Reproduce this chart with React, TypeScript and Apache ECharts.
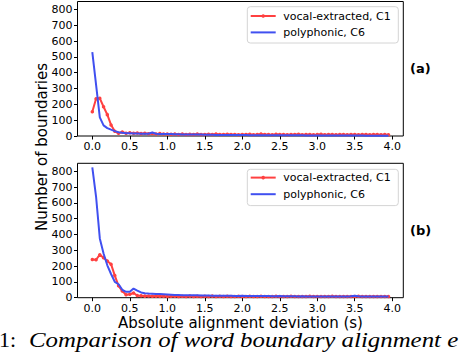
import React, { useEffect, useRef } from "react";
import * as echarts from "echarts";

// Bin positions (s) of the absolute alignment deviation
const deviation = [
  0.0, 0.05, 0.1, 0.15, 0.2, 0.25, 0.3, 0.35, 0.4, 0.45,
  0.5, 0.55, 0.6, 0.65, 0.7, 0.75, 0.8, 0.85, 0.9, 0.95,
  1.0, 1.05, 1.1, 1.15, 1.2, 1.25, 1.3, 1.35, 1.4, 1.45,
  1.5, 1.55, 1.6, 1.65, 1.7, 1.75, 1.8, 1.85, 1.9, 1.95,
  2.0, 2.05, 2.1, 2.15, 2.2, 2.25, 2.3, 2.35, 2.4, 2.45,
  2.5, 2.55, 2.6, 2.65, 2.7, 2.75, 2.8, 2.85, 2.9, 2.95,
  3.0, 3.05, 3.1, 3.15, 3.2, 3.25, 3.3, 3.35, 3.4, 3.45,
  3.5, 3.55, 3.6, 3.65, 3.7, 3.75, 3.8, 3.85, 3.9, 3.95,
];

// Panel (a)
const vocalA = [
  153, 235, 238, 185, 135, 70, 30, 17, 25, 18,
  20, 17, 19, 15, 17, 14, 16, 13, 15, 12,
  13, 11, 13, 10, 12, 10, 11, 9, 12, 10,
  9, 11, 10, 12, 9, 10, 11, 9, 10, 8,
  10, 9, 11, 8, 10, 12, 9, 10, 8, 11,
  9, 10, 8, 10, 9, 11, 8, 9, 10, 8,
  9, 11, 8, 10, 9, 8, 10, 9, 8, 10,
  9, 8, 10, 9, 8, 9, 10, 8, 9, 8,
];
const polyA = [
  530, 325, 118, 67, 50, 40, 31, 24, 20, 18,
  17, 16, 16, 15, 15, 14, 22, 14, 13, 13,
  12, 12, 11, 11, 10, 10, 10, 9, 9, 9,
  8, 8, 8, 7, 7, 7, 7, 6, 6, 6,
  6, 6, 5, 5, 5, 5, 5, 5, 4, 4,
  4, 4, 4, 4, 4, 4, 4, 3, 3, 3,
  3, 3, 3, 3, 3, 3, 3, 3, 3, 3,
  3, 3, 3, 2, 2, 2, 2, 2, 2, 2,
];

// Panel (b)
const vocalB = [
  242, 240, 272, 252, 232, 212, 140, 75, 42, 18,
  22, 30, 14, 12, 10, 11, 9, 10, 9, 10,
  8, 9, 10, 8, 9, 8, 10, 8, 9, 8,
  9, 8, 10, 8, 9, 8, 9, 7, 8, 9,
  8, 7, 9, 8, 7, 9, 8, 7, 8, 9,
  7, 8, 7, 9, 8, 7, 8, 7, 9, 8,
  7, 8, 7, 8, 9, 7, 8, 7, 8, 7,
  8, 9, 7, 8, 7, 8, 7, 8, 7, 8,
];
const polyB = [
  825, 640, 375, 280, 205, 150, 100, 85, 50, 37,
  38, 58, 45, 33, 28, 26, 25, 24, 23, 22,
  21, 19, 17, 17, 16, 16, 15, 15, 15, 14,
  14, 14, 13, 13, 12, 12, 12, 12, 11, 11,
  12, 11, 11, 10, 10, 10, 10, 10, 9, 9,
  10, 9, 9, 9, 9, 8, 9, 8, 8, 8,
  8, 8, 8, 8, 8, 8, 8, 8, 8, 9,
  13, 9, 8, 8, 7, 8, 7, 7, 7, 7,
];

const xTicks = [0, 0.5, 1.0, 1.5, 2.0, 2.5, 3.0, 3.5, 4.0];
const yTicks = [0, 100, 200, 300, 400, 500, 600, 700, 800];

const seriesNames = ["vocal-extracted, C1", "polyphonic, C6"];
const panelLabels = ["(a)", "(b)"];
const xLabel = "Absolute alignment deviation (s)";
const yLabel = "Number of boundaries";
const captionNum = "1:";
const captionText = "Comparison of word boundary alignment e";

const RED = "#ff4040";
const BLUE = "#4050f0";
const FONT = "DejaVu Sans";

function legendGraphic(top: number, rowA: number, rowB: number) {
  const left = 247.3;
  const lineX1 = 250.7;
  const lineX2 = 275.7;
  const textX = 283.3;
  return {
    type: "group",
    z: 100,
    children: [
      {
        type: "rect",
        shape: { x: left, y: top, width: 151, height: 36.3, r: 3 },
        style: { fill: "rgba(255,255,255,0.8)", stroke: "#d4d4d4", lineWidth: 1 },
        z: 100,
      },
      {
        type: "line",
        shape: { x1: lineX1, y1: rowA, x2: lineX2, y2: rowA },
        style: { stroke: RED, lineWidth: 2 },
        z: 101,
      },
      {
        type: "circle",
        shape: { cx: (lineX1 + lineX2) / 2, cy: rowA, r: 1.8 },
        style: { fill: RED },
        z: 102,
      },
      {
        type: "line",
        shape: { x1: lineX1, y1: rowB, x2: lineX2, y2: rowB },
        style: { stroke: BLUE, lineWidth: 2 },
        z: 101,
      },
      {
        type: "text",
        x: textX,
        y: rowA,
        z: 101,
        style: {
          text: seriesNames[0],
          fontFamily: FONT,
          fontSize: 11,
          fill: "#000",
          textAlign: "left",
          textVerticalAlign: "middle",
        },
      },
      {
        type: "text",
        x: textX,
        y: rowB,
        z: 101,
        style: {
          text: seriesNames[1],
          fontFamily: FONT,
          fontSize: 11,
          fill: "#000",
          textAlign: "left",
          textVerticalAlign: "middle",
        },
      },
    ],
  };
}

export default function App() {
  const ref = useRef<HTMLDivElement>(null);

  useEffect(() => {
    if (!ref.current) return;
    const chart = echarts.init(ref.current, undefined, { renderer: "svg" });

    const grids = [
      { left: 77.5, top: 1.5, width: 325.8, height: 134.5 },
      { left: 77.5, top: 163.3, width: 325.8, height: 134.4 },
    ];

    const xAxes = grids.map((_, i) => ({
      type: "value",
      gridIndex: i,
      min: -0.1975,
      max: 4.1475,
      axisLine: { show: false, onZero: false },
      splitLine: { show: false },
      axisTick: {
        show: true,
        customValues: xTicks,
        length: 3.5,
        lineStyle: { color: "#000", width: 1 },
      },
      axisLabel: {
        show: true,
        customValues: xTicks,
        formatter: (v: number) => v.toFixed(1),
        margin: 5,
        fontFamily: FONT,
        fontSize: 11,
        color: "#000",
      },
    }));

    const yAxes = grids.map((_, i) => ({
      type: "value",
      gridIndex: i,
      min: 0,
      max: 850,
      axisLine: { show: false, onZero: false },
      splitLine: { show: false },
      axisTick: {
        show: true,
        customValues: yTicks,
        length: 3.5,
        lineStyle: { color: "#000", width: 1 },
      },
      axisLabel: {
        show: true,
        customValues: yTicks,
        margin: 5,
        fontFamily: FONT,
        fontSize: 11,
        color: "#000",
      },
    }));

    const panels = [
      [vocalA, polyA],
      [vocalB, polyB],
    ];

    const series: any[] = [];
    panels.forEach((pair, gi) => {
      series.push({
        name: seriesNames[0],
        type: "line",
        xAxisIndex: gi,
        yAxisIndex: gi,
        data: deviation.map((x, k) => [x, pair[0][k]]),
        symbol: "circle",
        symbolSize: 3.5,
        showSymbol: true,
        showAllSymbol: true,
        lineStyle: { color: RED, width: 2 },
        itemStyle: { color: RED },
        z: 2,
        clip: true,
      });
      series.push({
        name: seriesNames[1],
        type: "line",
        xAxisIndex: gi,
        yAxisIndex: gi,
        data: deviation.map((x, k) => [x, pair[1][k]]),
        symbol: "none",
        lineStyle: { color: BLUE, width: 2 },
        itemStyle: { color: BLUE },
        z: 3,
        clip: true,
      });
    });

    chart.setOption({
      animation: false,
      backgroundColor: "#ffffff",
      grid: grids.map((g) => ({
        ...g,
        show: true,
        borderColor: "#000",
        borderWidth: 1,
        backgroundColor: "transparent",
        containLabel: false,
        outerBoundsMode: "none",
      })),
      xAxis: xAxes,
      yAxis: yAxes,
      series,
      graphic: [
        legendGraphic(6.7, 16, 32.4),
        legendGraphic(169.3, 177.6, 194.2),
        {
          type: "text",
          x: 41.5,
          y: 147,
          rotation: Math.PI / 2,
          style: {
            text: yLabel,
            fontFamily: FONT,
            fontSize: 15,
            fill: "#000",
            textAlign: "center",
            textVerticalAlign: "middle",
          },
        },
        {
          type: "text",
          x: 240.5,
          y: 322.5,
          style: {
            text: xLabel,
            fontFamily: FONT,
            fontSize: 15,
            fill: "#000",
            textAlign: "center",
            textVerticalAlign: "middle",
          },
        },
        {
          type: "text",
          x: 410,
          y: 68,
          style: {
            text: panelLabels[0],
            fontFamily: FONT,
            fontWeight: "bold",
            fontSize: 13,
            fill: "#000",
            textAlign: "left",
            textVerticalAlign: "middle",
          },
        },
        {
          type: "text",
          x: 410,
          y: 230.5,
          style: {
            text: panelLabels[1],
            fontFamily: FONT,
            fontWeight: "bold",
            fontSize: 13,
            fill: "#000",
            textAlign: "left",
            textVerticalAlign: "middle",
          },
        },
        {
          type: "text",
          x: -1,
          y: 339.5,
          style: {
            text: captionNum,
            fontFamily: "Liberation Serif",
            fontSize: 22,
            fill: "#000",
            textAlign: "left",
            textVerticalAlign: "middle",
          },
        },
        {
          type: "text",
          x: 29,
          y: 339.5,
          scaleX: 1.13,
          style: {
            text: captionText,
            fontFamily: "Liberation Serif",
            fontStyle: "italic",
            fontSize: 22,
            fill: "#000",
            textAlign: "left",
            textVerticalAlign: "middle",
          },
        },
      ],
    });

    return () => {
      chart.dispose();
    };
  }, []);

  return (
    <div
      ref={ref}
      style={{
        position: "absolute",
        left: 0,
        top: 0,
        width: 464,
        height: 362,
        background: "#fff",
        overflow: "hidden",
      }}
    />
  );
}
